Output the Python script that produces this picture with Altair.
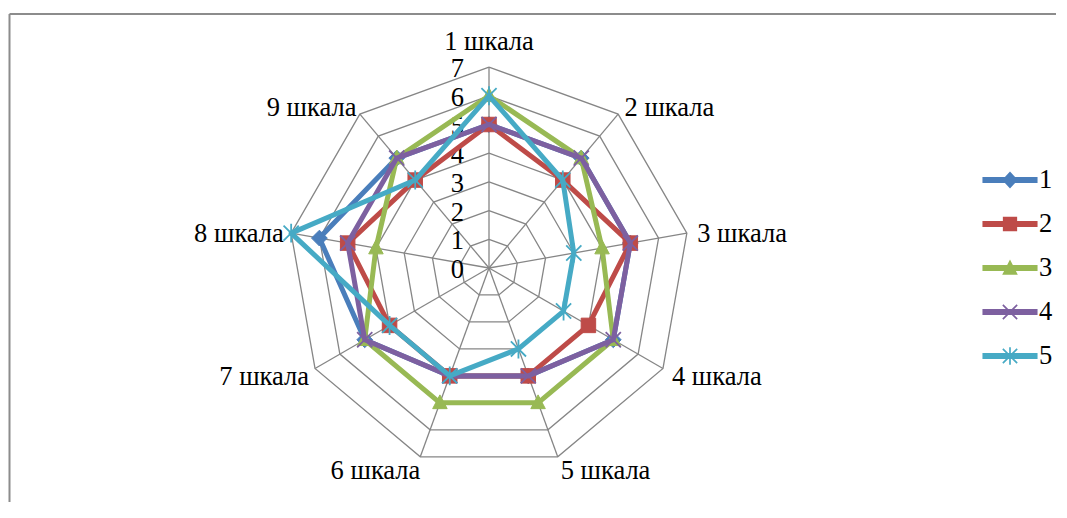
import math
import altair as alt
import pandas as pd

# ---------------- data ----------------
categories = ["1 шкала", "2 шкала", "3 шкала", "4 шкала", "5 шкала",
              "6 шкала", "7 шкала", "8 шкала", "9 шкала"]
series_names = ["1", "2", "3", "4", "5"]
s1 = [5, 5, 5, 5, 4, 4, 5, 6, 5]
s2 = [5, 4, 5, 4, 4, 4, 4, 5, 4]
s3 = [6, 5, 4, 5, 5, 5, 5, 4, 5]
s4 = [5, 5, 5, 5, 4, 4, 5, 5, 5]
s5 = [6, 4, 3, 3, 3, 4, 4, 7, 4]
tick_labels = ["0", "1", "2", "3", "4", "5", "6", "7"]
colors = ["#4A7EBB", "#BE4B48", "#98B954", "#7D60A0", "#46AAC5"]

series_values = [s1, s2, s3, s4, s5]
N = len(categories)
MAXV = 7

# ---------------- tables ----------------
rows = []
for name, vals in zip(series_names, series_values):
    for i in range(N + 1):
        rows.append({"series": name, "idx": i, "v": vals[i % N]})
df = pd.DataFrame(rows)

grid = pd.DataFrame([{"level": lv, "idx": i, "v": lv}
                     for lv in range(1, MAXV + 1) for i in range(N + 1)])
spokes = pd.DataFrame([{"idx": i, "v": MAXV, "zero": 0} for i in range(N)])
cats = pd.DataFrame([{"idx": i, "cat": c, "v": MAXV} for i, c in enumerate(categories)])
ticks = pd.DataFrame([{"t": t, "v": int(t), "zero": 0} for t in tick_labels])

# ---------------- geometry / scales ----------------
W, H = 1048, 494
K = 28.7          # pixels per unit
CX, CY = 481, 260  # centre in plot pixels
xs = alt.Scale(domain=[-CX / K, (W - CX) / K], nice=False, zero=False)
ys = alt.Scale(domain=[-(H - CY) / K, CY / K], nice=False, zero=False)

FONT = "Liberation Serif, Times New Roman, DejaVu Serif, serif"
FS = 26.5
GRID = "#868686"


def polar(ch):
    return ch.transform_calculate(
        theta=f"datum.idx * 2 * PI / {N}"
    ).transform_calculate(
        px="datum.v * sin(datum.theta)", py="datum.v * cos(datum.theta)"
    )


X = alt.X("px:Q", scale=xs, axis=None)
Y = alt.Y("py:Q", scale=ys, axis=None)

one = pd.DataFrame({"a": [0]})
frame_top = alt.Chart(one).mark_rule(color="#8c8c8c", strokeWidth=2).encode(
    x=alt.value(1.5), x2=alt.value(1400), y=alt.value(6))
frame_left = alt.Chart(one).mark_rule(color="#8c8c8c", strokeWidth=2).encode(
    x=alt.value(1.5), y=alt.value(6), y2=alt.value(900))

grid_l = polar(alt.Chart(grid)).mark_line(color=GRID, strokeWidth=1.3).encode(
    x=X, y=Y, detail="level:N", order="idx:Q")

spoke_l = polar(alt.Chart(spokes)).mark_rule(color=GRID, strokeWidth=1.3).encode(
    x=X, y=Y, x2="zero:Q", y2="zero:Q")

tick_l = alt.Chart(ticks).mark_text(
    font=FONT, fontSize=FS, align="right", baseline="middle", dx=-25, dy=2, color="black"
).encode(x=alt.X("zero:Q", scale=xs, axis=None), y=alt.Y("v:Q", scale=ys, axis=None),
         text="t:N")


def cat_layer(filter_expr, align, baseline, r, dx=0, dy=0):
    return alt.Chart(cats).transform_filter(filter_expr).transform_calculate(
        theta=f"datum.idx * 2 * PI / {N}"
    ).transform_calculate(
        px=f"{r} * sin(datum.theta)", py=f"{r} * cos(datum.theta)"
    ).mark_text(font=FONT, fontSize=FS, align=align, baseline=baseline, dx=dx, dy=dy,
                color="black").encode(x=X, y=Y, text="cat:N")


cat_top = cat_layer("datum.idx == 0", "center", "bottom", 7.4)
cat_left = cat_layer("datum.idx >= 1 && datum.idx <= 4", "left", "middle", 7.4, -1, 3)
cat_right = cat_layer("datum.idx >= 5", "right", "middle", 7.4, 4, 3)


def poly(pts):
    # consistent winding so overlapping pieces never cancel
    a = sum(pts[i][0] * pts[(i + 1) % len(pts)][1] - pts[(i + 1) % len(pts)][0] * pts[i][1]
            for i in range(len(pts)))
    if a < 0:
        pts = pts[::-1]
    return "M" + "L".join(f"{x:.3f},{y:.3f}" for x, y in pts) + "Z"


def bar(x1, y1, x2, y2, w):
    dx, dy = x2 - x1, y2 - y1
    L = math.hypot(dx, dy)
    nx, ny = -dy / L * w, dx / L * w
    return poly([(x1 + nx, y1 + ny), (x2 + nx, y2 + ny), (x2 - nx, y2 - ny), (x1 - nx, y1 - ny)])


# chart markers (unit path scaled by sqrt(size)/2)
m_diamond = "M0,-1L1,0L0,1L-1,0Z"
m_square = "M-1,-1L1,-1L1,1L-1,1Z"
m_tri = "M0,-1.1L1,0.8L-1,0.8Z"
m_x = "M-1,-1L1,1M-1,1L1,-1"
m_star = "M-1,-1L1,1M-1,1L1,-1M0,-1.25L0,1.25"
markers = [m_diamond, m_square, m_tri, m_x, m_star]
msize = [250, 210, 210, 230, 230]
mfill = [True, True, True, False, False]

# legend symbols: line + marker, as filled polygons
line_part = bar(-1.62, 0, 1.62, 0, 0.17)
a = 0.42
lg = [
    line_part + poly([(0, -0.5), (0.46, 0), (0, 0.5), (-0.46, 0)]),
    line_part + poly([(-a, -a), (a, -a), (a, a), (-a, a)]),
    line_part + poly([(0, -0.5), (0.46, 0.4), (-0.46, 0.4)]),
    line_part + bar(-a, -a, a, a, 0.05) + bar(-a, a, a, -a, 0.05),
    line_part + bar(-a, -a, a, a, 0.05) + bar(-a, a, a, -a, 0.05) + bar(0, -0.52, 0, 0.52, 0.05),
]

series_layers = []
for i, name in enumerate(series_names):
    base = polar(alt.Chart(df)).transform_filter(f"datum.series == '{name}'")
    ln = base.mark_line(color=colors[i], strokeWidth=5, strokeJoin="round",
                        strokeCap="round").encode(x=X, y=Y, order="idx:Q")
    if mfill[i]:
        pmark = dict(filled=True, fill=colors[i], stroke=colors[i], strokeWidth=1)
    else:
        pmark = dict(filled=False, stroke=colors[i], strokeWidth=1.8)
    pt = base.transform_filter(f"datum.idx < {N}").mark_point(
        shape=markers[i], size=msize[i], opacity=1, **pmark
    ).encode(x=X, y=Y)
    series_layers += [ln, pt]

leg = alt.Legend(title=None, orient="none", legendX=985, legendY=155,
                 symbolSize=1156, symbolOpacity=1, symbolStrokeWidth=0,
                 labelFont=FONT, labelFontSize=FS, labelColor="black",
                 labelOffset=12, rowPadding=13, padding=0)
legend_l = polar(alt.Chart(df)).mark_point(filled=True, opacity=0).encode(
    x=X, y=Y,
    color=alt.Color("series:N", scale=alt.Scale(domain=series_names, range=colors),
                    legend=leg),
    shape=alt.Shape("series:N", scale=alt.Scale(domain=series_names, range=lg),
                    legend=leg),
)

chart = alt.layer(
    frame_top, frame_left, grid_l, spoke_l, tick_l, cat_top, cat_left, cat_right,
    *series_layers, legend_l
).properties(
    width=W, height=H, padding=0,
    autosize=alt.AutoSizeParams(type="none")
).configure_view(stroke=None)

chart.save("out.html", embed_options={"renderer": "svg", "actions": False})
